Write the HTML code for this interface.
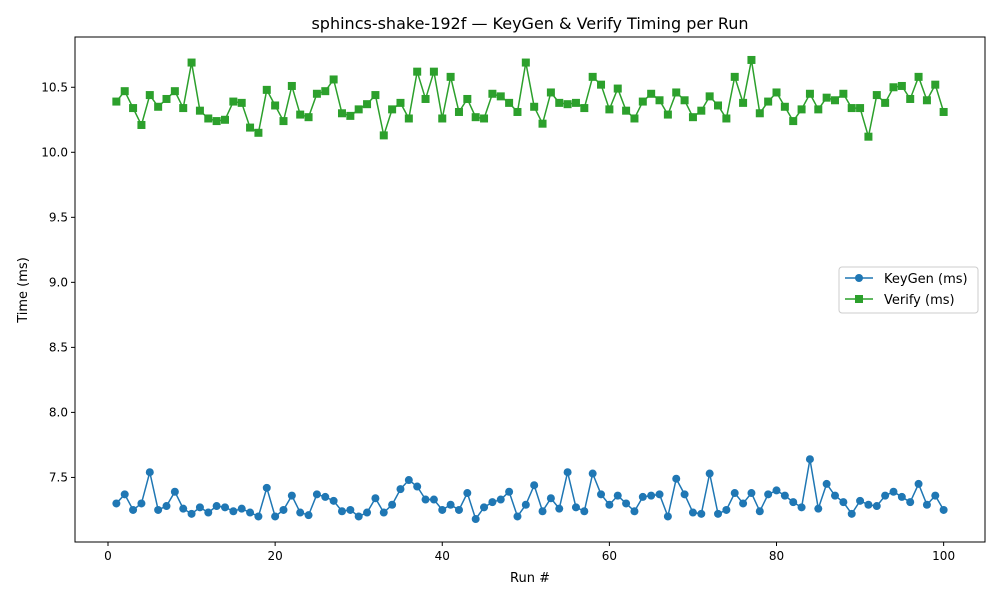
<!DOCTYPE html>
<html><head><meta charset="utf-8"><style>
body{margin:0;background:#fff;font-family:"Liberation Sans","DejaVu Sans",sans-serif}
svg text{font-family:"DejaVu Sans","Liberation Sans",sans-serif}
</style></head><body>
<svg id="chart" width="1000" height="600" xmlns="http://www.w3.org/2000/svg">
<rect width="1000" height="600" fill="#fff"/>
<text x="530" y="29" font-size="16" text-anchor="middle">sphincs-shake-192f — KeyGen &amp; Verify Timing per Run</text>
<g id="grid"></g>
<g id="marks"></g>
<rect x="75" y="37" width="910" height="505" fill="none" stroke="#000" stroke-width="1"/>
<text x="530" y="582" font-size="13" text-anchor="middle">Run #</text>
<text x="27" y="290" font-size="13" text-anchor="middle" transform="rotate(-90 27 290)">Time (ms)</text>
<g>
<rect x="839" y="267" width="139" height="46" fill="#fff" stroke="#ccc" rx="3"/>
<line x1="845" y1="278" x2="873" y2="278" stroke="#1f77b4" stroke-width="1.5"/>
<circle cx="859" cy="278" r="4" fill="#1f77b4"/>
<text x="884" y="283" font-size="13">KeyGen (ms)</text>
<line x1="845" y1="299" x2="873" y2="299" stroke="#2ca02c" stroke-width="1.5"/>
<rect x="855" y="295" width="8" height="8" fill="#2ca02c"/>
<text x="884" y="304" font-size="13">Verify (ms)</text>
</g>
</svg>
<script>
const keygen=[7.30,7.37,7.25,7.30,7.54,7.25,7.28,7.39,7.26,7.22,7.27,7.23,7.28,7.27,7.24,7.26,7.23,7.20,7.42,7.20,7.25,7.36,7.23,7.21,7.37,7.35,7.32,7.24,7.25,7.20,7.23,7.34,7.23,7.29,7.41,7.48,7.43,7.33,7.33,7.25,7.29,7.25,7.38,7.18,7.27,7.31,7.33,7.39,7.20,7.29,7.44,7.24,7.34,7.26,7.54,7.27,7.24,7.53,7.37,7.29,7.36,7.30,7.24,7.35,7.36,7.37,7.20,7.49,7.37,7.23,7.22,7.53,7.22,7.25,7.38,7.30,7.38,7.24,7.37,7.40,7.36,7.31,7.27,7.64,7.26,7.45,7.36,7.31,7.22,7.32,7.29,7.28,7.36,7.39,7.35,7.31,7.45,7.29,7.36,7.25];
const verify=[10.39,10.47,10.34,10.21,10.44,10.35,10.41,10.47,10.34,10.69,10.32,10.26,10.24,10.25,10.39,10.38,10.19,10.15,10.48,10.36,10.24,10.51,10.29,10.27,10.45,10.47,10.56,10.30,10.28,10.33,10.37,10.44,10.13,10.33,10.38,10.26,10.62,10.41,10.62,10.26,10.58,10.31,10.41,10.27,10.26,10.45,10.43,10.38,10.31,10.69,10.35,10.22,10.46,10.38,10.37,10.38,10.34,10.58,10.52,10.33,10.49,10.32,10.26,10.39,10.45,10.40,10.29,10.46,10.40,10.27,10.32,10.43,10.36,10.26,10.58,10.38,10.71,10.30,10.39,10.46,10.35,10.24,10.33,10.45,10.33,10.42,10.40,10.45,10.34,10.34,10.12,10.44,10.38,10.50,10.51,10.41,10.58,10.40,10.52,10.31];
const xTicks=[0,20,40,60,80,100];
const yTicks=[7.5,8.0,8.5,9.0,9.5,10.0,10.5];
const NS="http://www.w3.org/2000/svg";
const L=75,R=985,T=37,B=542;
const n=keygen.length;
const all=keygen.concat(verify);
const mn=Math.min(...all),mx=Math.max(...all),sp=mx-mn;
const y0=mn-0.05*sp,y1=mx+0.05*sp;
const x0=1-0.05*(n-1),x1=n+0.05*(n-1);
const sx=v=>L+(v-x0)/(x1-x0)*(R-L);
const sy=v=>B-(v-y0)/(y1-y0)*(B-T);
function mk(tag,attrs,parent){const e=document.createElementNS(NS,tag);for(const k in attrs)e.setAttribute(k,attrs[k]);parent.appendChild(e);return e;}
const g=document.getElementById('grid'),m=document.getElementById('marks');
xTicks.forEach(t=>{const x=sx(t);
mk('line',{x1:x,x2:x,y1:B,y2:B+4,stroke:'#000'},g);
const tx=mk('text',{x:x,y:B+18,'font-size':12,'text-anchor':'middle'},g);tx.textContent=t;

});
yTicks.forEach(t=>{const y=sy(t);
mk('line',{x1:L-4,x2:L,y1:y,y2:y,stroke:'#000'},g);
const tx=mk('text',{x:L-7,y:y+4,'font-size':12,'text-anchor':'end'},g);tx.textContent=t.toFixed(1);

});
function series(data,color,shape,name){
const pts=data.map((v,i)=>sx(i+1).toFixed(2)+','+sy(v).toFixed(2)).join(' ');
const pl=mk('polyline',{points:pts,fill:'none',stroke:color,'stroke-width':1.5},m);


data.forEach((v,i)=>{let e;
if(shape==='c')e=mk('circle',{cx:sx(i+1),cy:sy(v),r:4,fill:color},m);
else e=mk('rect',{x:sx(i+1)-4,y:sy(v)-4,width:8,height:8,fill:color},m);

});}
series(keygen,'#1f77b4','c','keygen');
series(verify,'#2ca02c','s','verify');
</script>
</body></html>
